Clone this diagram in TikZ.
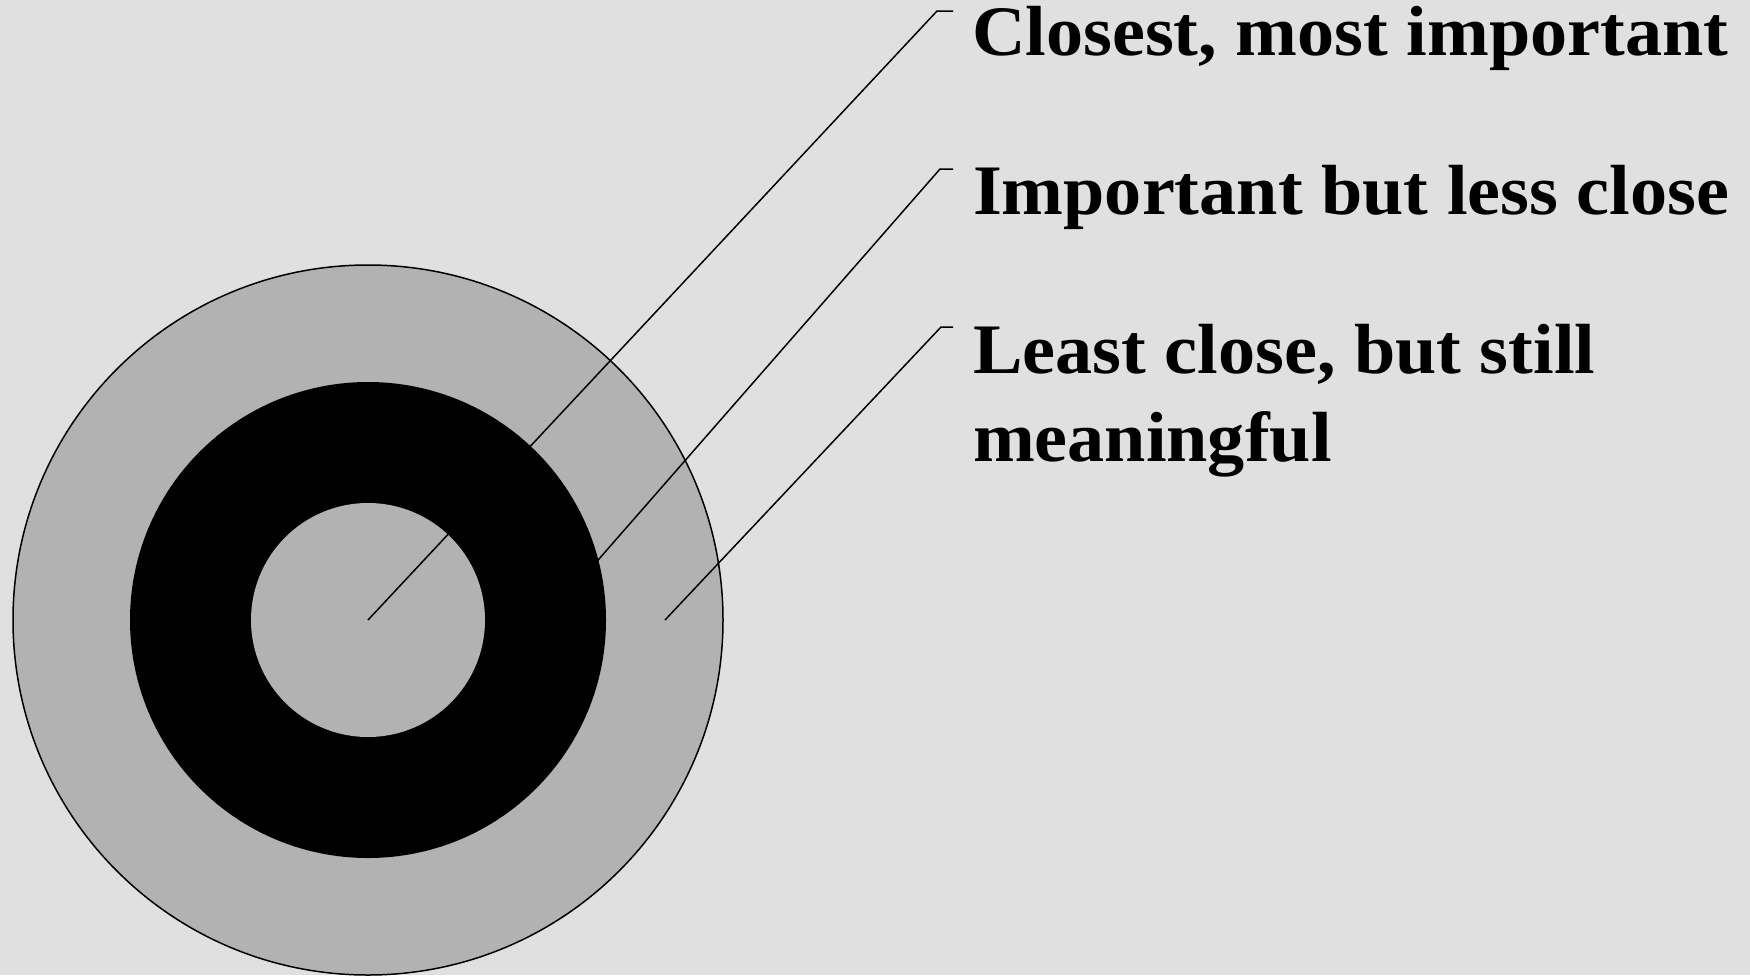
\documentclass[tikz,border=0pt]{standalone}
\usepackage{fontspec}
\setmainfont{Liberation Serif}[FakeStretch=1.045]
\definecolor{bgcol}{RGB}{224,224,224}
\definecolor{ringgray}{RGB}{178,178,178}
\begin{document}
\begin{tikzpicture}[x=0.5pt,y=-0.5pt,
  label text/.style={anchor=base west,inner sep=0pt,outer sep=0pt,align=left,
    font=\fontsize{35.5}{44}\selectfont\bfseries},
  leader/.style={line width=0.75pt,black},
  ringfill/.style={fill=ringgray}]
\fill[bgcol] (0,0) rectangle (1750,975);
\useasboundingbox (0,0) rectangle (1750,975);
% rings
\coordinate (c) at (368,620);
\filldraw[ringfill,draw=black,line width=0.75pt] (c) circle[radius=355];
\fill[black] (c) circle[radius=238];
\fill[ringgray] (c) circle[radius=117];
% labels (base anchor of a multi-line node is the last line's baseline)
\node[label text] (t1) at (972,55) {Closest, most important};
\node[label text] (t2) at (973,214) {Important but less close};
\node[label text] (t3) at (973,461) {Least close, but still\\meaningful};
% leader lines
\coordinate (s2) at (585,575);
\coordinate (s3) at (665,620);
\coordinate (k1) at (937,11);
\coordinate (k2) at (940,169);
\coordinate (k3) at (941,327);
\draw[leader] (c) -- (k1) -- ++(16,0);
\draw[leader] (s2) -- (k2) -- ++(13,0);
\draw[leader] (s3) -- (k3) -- ++(12,0);
\end{tikzpicture}
\end{document}
